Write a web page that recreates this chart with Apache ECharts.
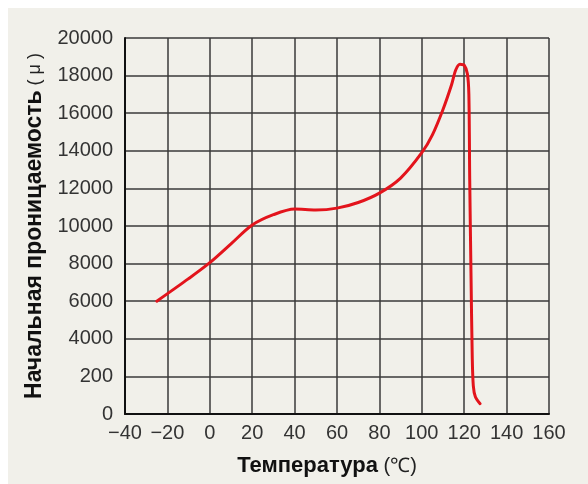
<!DOCTYPE html>
<html>
<head>
<meta charset="utf-8">
<script src="https://cdn.jsdelivr.net/npm/echarts@6/dist/echarts.min.js"></script>
<style>
  html, body { margin: 0; padding: 0; background: #fff; }
  #chart { width: 588px; height: 484px; }
</style>
</head>
<body>
<div id="chart"></div>
<script>
// temperature (°C) and initial permeability
var temps = [-25, -10, 0, 10, 20, 30, 40, 50, 60, 70, 80, 90, 100, 105, 110, 114, 116, 118, 120, 121.5, 122.2, 122.6, 123.2, 123.8, 124.3, 125.3, 127.5];
var perm  = [6000, 7200, 8050, 9050, 10050, 10600, 10900, 10850, 10950, 11250, 11750, 12550, 13900, 14850, 16200, 17500, 18300, 18600, 18550, 18100, 17000, 12500, 7500, 3000, 1500, 900, 550];

// tick labels as printed (the 2000 mark reads "200" in the original)
var yTickLabels = ['0', '200', '4000', '6000', '8000', '10000', '12000', '14000', '16000', '18000', '20000'];

var chart = echarts.init(document.getElementById('chart'));

var points = [];
for (var i = 0; i < temps.length; i++) {
    points.push([temps[i], perm[i]]);
}

var font = 'Liberation Sans, Arial, sans-serif';

var option = {
    backgroundColor: '#fff',
    animation: false,
    graphic: [{
        type: 'rect',
        z: -10,
        shape: { x: 8, y: 8, width: 580, height: 476 },
        style: { fill: '#f1f0ea' }
    }],
    grid: { left: 125, right: 39, top: 38, bottom: 70 },
    xAxis: {
        type: 'value',
        min: -40,
        max: 160,
        interval: 20,
        name: '{b|Температура}{n| (℃)}',
        nameLocation: 'middle',
        nameGap: 41,
        nameTextStyle: {
            padding: [0, 20, 0, 0],
            rich: {
                b: { fontFamily: font, fontSize: 22, fontWeight: 'bold', color: '#111' },
                n: { fontFamily: font, fontSize: 20, color: '#222' }
            }
        },
        axisLine: { onZero: false, lineStyle: { color: '#111', width: 2 } },
        axisTick: { show: false },
        axisLabel: {
            margin: 9,
            fontFamily: font,
            fontSize: 20,
            color: '#333',
            formatter: function (v) { return String(v).replace('-', '\u2212'); }
        },
        splitLine: { show: true, lineStyle: { color: '#3a3a3a', width: 1.5 } }
    },
    yAxis: {
        type: 'value',
        min: 0,
        max: 20000,
        interval: 2000,
        name: '{b|Начальная проницаемость}{n| ( μ )}',
        nameLocation: 'middle',
        nameRotate: 90,
        nameGap: 78,
        nameTextStyle: {
            rich: {
                b: { fontFamily: font, fontSize: 23, fontWeight: 'bold', color: '#111' },
                n: { fontFamily: font, fontSize: 18, color: '#222' }
            }
        },
        axisLine: { show: true, onZero: false, lineStyle: { color: '#111', width: 2 } },
        axisTick: { show: false },
        axisLabel: {
            margin: 12,
            fontFamily: font,
            fontSize: 20,
            color: '#333',
            formatter: function (v) { return yTickLabels[Math.round(v / 2000)]; }
        },
        splitLine: { show: true, lineStyle: { color: '#3a3a3a', width: 1.5 } }
    },
    series: [{
        type: 'line',
        data: points,
        smooth: 0.3,
        symbol: 'none',
        lineStyle: { color: '#e3141c', width: 3, cap: 'round' }
    }]
};

chart.setOption(option);
</script>
</body>
</html>
